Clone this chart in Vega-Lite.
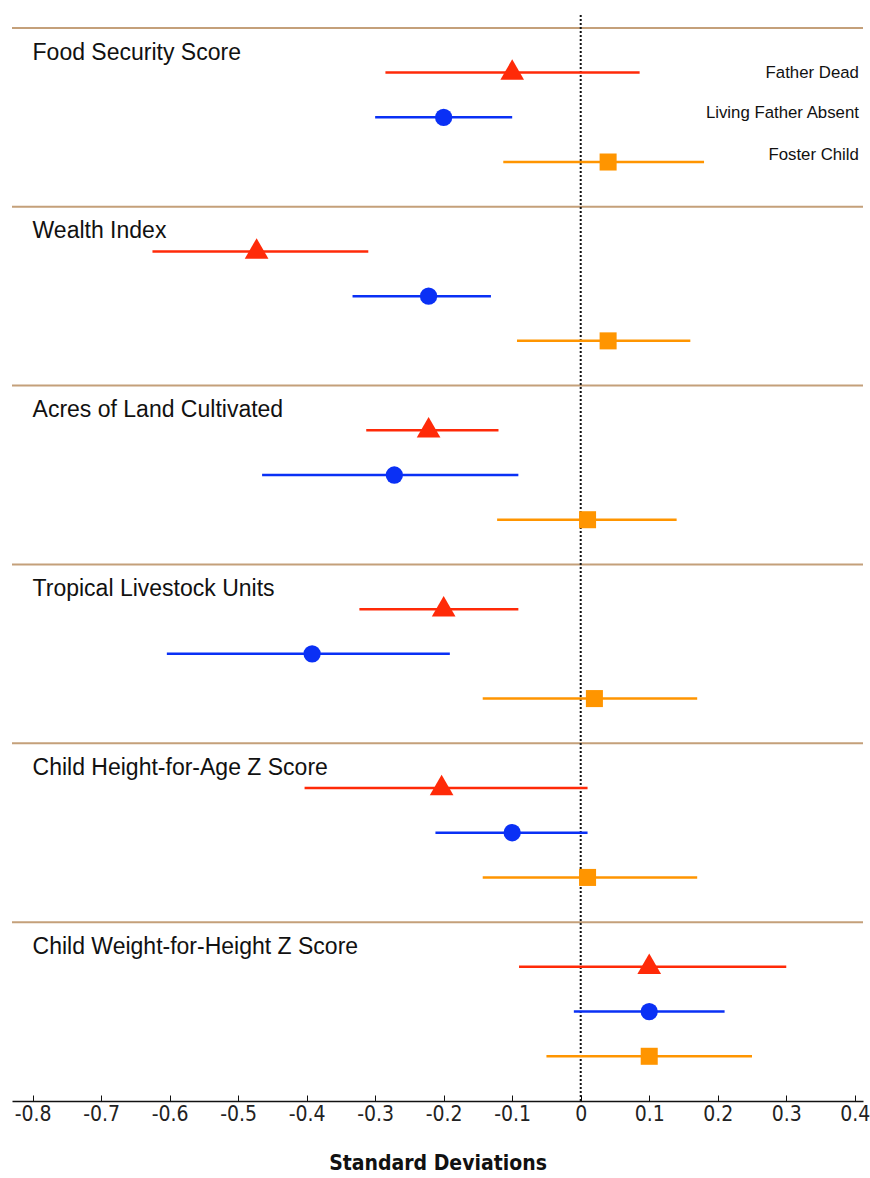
{
  "$schema": "https://vega.github.io/schema/vega-lite/v6.json",
  "width": 851,
  "height": 1086,
  "autosize": {"type": "none"},
  "padding": {"left": 12, "top": 15, "right": 7, "bottom": 77},
  "background": "white",
  "config": {"view": {"stroke": null}, "font": "Liberation Sans"},
  "data": {"name": "est"},
  "datasets": {
    "outcomes": [
      {"outcome": "Food Security Score"},
      {"outcome": "Wealth Index"},
      {"outcome": "Acres of Land Cultivated"},
      {"outcome": "Tropical Livestock Units"},
      {"outcome": "Child Height-for-Age Z Score"},
      {"outcome": "Child Weight-for-Height Z Score"}
    ],
    "est": [
      {"outcome": "Food Security Score", "group": "Father Dead", "est": -0.10, "lo": -0.285, "hi": 0.086},
      {"outcome": "Food Security Score", "group": "Living Father Absent", "est": -0.20, "lo": -0.30, "hi": -0.10},
      {"outcome": "Food Security Score", "group": "Foster Child", "est": 0.04, "lo": -0.113, "hi": 0.18},
      {"outcome": "Wealth Index", "group": "Father Dead", "est": -0.473, "lo": -0.625, "hi": -0.31},
      {"outcome": "Wealth Index", "group": "Living Father Absent", "est": -0.222, "lo": -0.333, "hi": -0.131},
      {"outcome": "Wealth Index", "group": "Foster Child", "est": 0.04, "lo": -0.093, "hi": 0.16},
      {"outcome": "Acres of Land Cultivated", "group": "Father Dead", "est": -0.222, "lo": -0.313, "hi": -0.12},
      {"outcome": "Acres of Land Cultivated", "group": "Living Father Absent", "est": -0.272, "lo": -0.465, "hi": -0.091},
      {"outcome": "Acres of Land Cultivated", "group": "Foster Child", "est": 0.01, "lo": -0.122, "hi": 0.14},
      {"outcome": "Tropical Livestock Units", "group": "Father Dead", "est": -0.20, "lo": -0.323, "hi": -0.091},
      {"outcome": "Tropical Livestock Units", "group": "Living Father Absent", "est": -0.392, "lo": -0.604, "hi": -0.191},
      {"outcome": "Tropical Livestock Units", "group": "Foster Child", "est": 0.02, "lo": -0.143, "hi": 0.17},
      {"outcome": "Child Height-for-Age Z Score", "group": "Father Dead", "est": -0.203, "lo": -0.403, "hi": 0.01},
      {"outcome": "Child Height-for-Age Z Score", "group": "Living Father Absent", "est": -0.10, "lo": -0.212, "hi": 0.01},
      {"outcome": "Child Height-for-Age Z Score", "group": "Foster Child", "est": 0.01, "lo": -0.143, "hi": 0.17},
      {"outcome": "Child Weight-for-Height Z Score", "group": "Father Dead", "est": 0.10, "lo": -0.09, "hi": 0.30},
      {"outcome": "Child Weight-for-Height Z Score", "group": "Living Father Absent", "est": 0.10, "lo": -0.01, "hi": 0.21},
      {"outcome": "Child Weight-for-Height Z Score", "group": "Foster Child", "est": 0.10, "lo": -0.05, "hi": 0.25}
    ]
  },
  "layer": [
    {
      "data": {"name": "outcomes"},
      "mark": {"type": "rule", "color": "#c4a07a", "strokeWidth": 2},
      "encoding": {
        "y": {
          "field": "outcome", "type": "nominal", "bandPosition": 0,
          "scale": {
            "domain": ["Food Security Score", "Wealth Index", "Acres of Land Cultivated", "Tropical Livestock Units", "Child Height-for-Age Z Score", "Child Weight-for-Height Z Score"],
            "paddingInner": 0, "paddingOuter": 0.036, "align": 1
          },
          "axis": null
        }
      }
    },
    {
      "data": {"name": "outcomes"},
      "mark": {"type": "text", "align": "left", "baseline": "alphabetic", "fontSize": 23, "font": "Liberation Sans", "color": "#111"},
      "encoding": {
        "x": {
          "datum": -0.8, "type": "quantitative",
          "scale": {"domain": [-0.83, 0.412], "nice": false, "zero": false},
          "title": "Standard Deviations",
          "axis": {
            "values": [-0.8, -0.7, -0.6, -0.5, -0.4, -0.3, -0.2, -0.1, 0, 0.1, 0.2, 0.3, 0.4],
            "labelExpr": "toString(datum.value)",
            "grid": false,
            "domainColor": "#111", "domainWidth": 1.5,
            "tickColor": "#111", "tickSize": -6, "tickWidth": 1,
            "labelFont": "Liberation Sans Narrow, DejaVu Sans Condensed, Liberation Sans",
            "labelFontSize": 21, "labelColor": "#222", "labelPadding": 8,
            "titleFont": "Liberation Sans Narrow, DejaVu Sans Condensed, Liberation Sans",
            "titleFontSize": 21, "titleFontWeight": "bold", "titleColor": "#111", "titlePadding": 28
          }
        },
        "y": {"field": "outcome", "type": "nominal", "bandPosition": 0.177, "axis": null},
        "text": {"field": "outcome"}
      }
    },
    {
      "data": {"values": [{"zero": 0}]},
      "mark": {"type": "rule", "color": "#111", "strokeWidth": 2, "strokeDash": [2, 2]},
      "encoding": {
        "x": {"field": "zero", "type": "quantitative", "title": "Standard Deviations"}
      }
    },
    {
      "transform": [{"filter": "datum.group === 'Father Dead'"}],
      "encoding": {
        "y": {"field": "outcome", "type": "nominal", "bandPosition": 0.25, "axis": null},
        "color": {"field": "group", "type": "nominal", "scale": {"domain": ["Father Dead", "Living Father Absent", "Foster Child"], "range": ["#ff2a08", "#0a30f5", "#ff9500"]}, "legend": null}
      },
      "layer": [
        {"mark": {"type": "rule", "strokeWidth": 2.5}, "encoding": {"x": {"field": "lo", "type": "quantitative", "title": "Standard Deviations"}, "x2": {"field": "hi"}}},
        {"mark": {"type": "point", "filled": true, "opacity": 1, "size": 560, "shape": "triangle-up", "yOffset": -3}, "encoding": {"x": {"field": "est", "type": "quantitative", "title": "Standard Deviations"}}},
        {"transform": [{"filter": "datum.outcome === 'Food Security Score'"}], "mark": {"type": "text", "align": "right", "baseline": "middle", "fontSize": 16.8, "font": "Liberation Sans", "dy": 0}, "encoding": {"x": {"datum": 0.406, "type": "quantitative"}, "text": {"field": "group"}, "color": {"value": "#111"}}}
      ]
    },
    {
      "transform": [{"filter": "datum.group === 'Living Father Absent'"}],
      "encoding": {
        "y": {"field": "outcome", "type": "nominal", "bandPosition": 0.5, "axis": null},
        "color": {"field": "group", "type": "nominal", "legend": null}
      },
      "layer": [
        {"mark": {"type": "rule", "strokeWidth": 2.5}, "encoding": {"x": {"field": "lo", "type": "quantitative", "title": "Standard Deviations"}, "x2": {"field": "hi"}}},
        {"mark": {"type": "point", "filled": true, "opacity": 1, "size": 300, "shape": "circle"}, "encoding": {"x": {"field": "est", "type": "quantitative", "title": "Standard Deviations"}}},
        {"transform": [{"filter": "datum.outcome === 'Food Security Score'"}], "mark": {"type": "text", "align": "right", "baseline": "middle", "fontSize": 16.8, "font": "Liberation Sans", "dy": -4}, "encoding": {"x": {"datum": 0.406, "type": "quantitative"}, "text": {"field": "group"}, "color": {"value": "#111"}}}
      ]
    },
    {
      "transform": [{"filter": "datum.group === 'Foster Child'"}],
      "encoding": {
        "y": {"field": "outcome", "type": "nominal", "bandPosition": 0.75, "axis": null},
        "color": {"field": "group", "type": "nominal", "legend": null}
      },
      "layer": [
        {"mark": {"type": "rule", "strokeWidth": 2.5}, "encoding": {"x": {"field": "lo", "type": "quantitative", "title": "Standard Deviations"}, "x2": {"field": "hi"}}},
        {"mark": {"type": "point", "filled": true, "opacity": 1, "size": 290, "shape": "square"}, "encoding": {"x": {"field": "est", "type": "quantitative", "title": "Standard Deviations"}}},
        {"transform": [{"filter": "datum.outcome === 'Food Security Score'"}], "mark": {"type": "text", "align": "right", "baseline": "middle", "fontSize": 16.8, "font": "Liberation Sans", "dy": -7}, "encoding": {"x": {"datum": 0.406, "type": "quantitative"}, "text": {"field": "group"}, "color": {"value": "#111"}}}
      ]
    }
  ]
}
